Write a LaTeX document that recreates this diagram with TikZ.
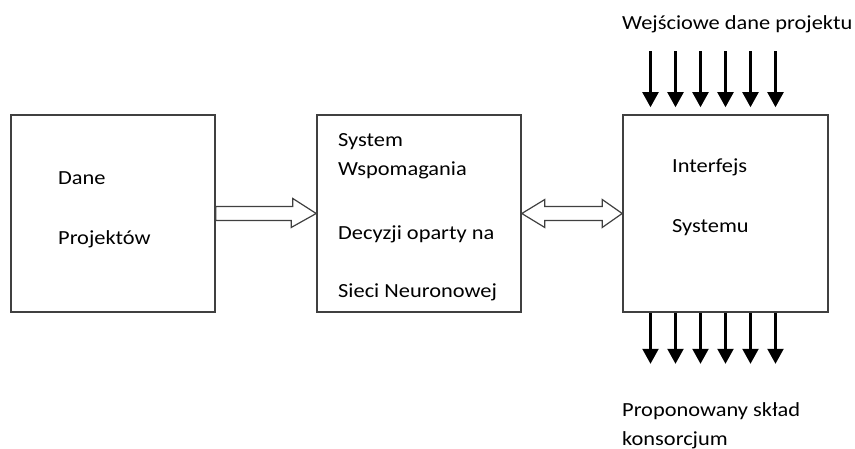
\documentclass[tikz,border=0pt]{standalone}
\usepackage{fontspec}
\setmainfont{Carlito}[FakeStretch=1.12]
\usetikzlibrary{arrows.meta,calc}
\definecolor{frame}{HTML}{404040}
\tikzset{blk/.style={draw=frame,line width=1.6pt,minimum width=204pt,minimum height=197pt,inner sep=0pt},txt/.style={anchor=base west,inner sep=0pt,font=\fontsize{20}{24}\selectfont},hollow/.style={draw=frame,line width=1.2pt,fill=white,line join=miter},flow/.style={-{Triangle[length=15pt,width=16pt]},line width=2.2pt}}

\begin{document}
\begin{tikzpicture}[x=1pt,y=-1pt]
\useasboundingbox (0,0) rectangle (855,449);
\node[blk] (dane) at (113,213.5) {};\node[blk] (dss) at (419,213.5) {};\node[blk,minimum width=205pt] (iface) at (725.5,213.5) {};
% labels in the boxes
\node[txt] (dane1) at (58,185) {Dane};\node[txt] (dane2) at (58,245) {Projektów};
\node[txt] (dss1) at (338,147) {System};\node[txt] (dss2) at (338,176) {Wspomagania};\node[txt] (dss3) at (338,240) {Decyzji oparty na};\node[txt] (dss4) at (338,298) {Sieci Neuronowej};
\node[txt] (iface1) at (672,173) {Interfejs};\node[txt] (iface2) at (672,233) {Systemu};
% block arrows
\draw[hollow] (dane.east) ++(0,-7) -- ++(77,0) -- ++(0,-8) -- (dss.west) -- ++(-25,14) -- ++(0,-7) -- ($(dane.east)+(0,7)$) -- cycle;
\draw[hollow] (dss.east) -- ++(23,-14) -- ++(0,7) -- ($(iface.west)+(-20,-7)$) -- ++(0,-7) -- (iface.west) -- ++(-20,14) -- ++(0,-7) -- ($(dss.east)+(23,7)$) -- ++(0,7) -- cycle;
% inputs and outputs
\node[txt] (wej) at (622,30) {Wejściowe dane projektu};
\foreach \dx in {-75,-50,-25,0,25,50} {\draw[flow] ($(iface.north)+(\dx,-63)$) -- ($(iface.north)+(\dx,-7)$);\draw[flow] ($(iface.south)+(\dx,0)$) -- ($(iface.south)+(\dx,51)$);}
\node[txt] (out1) at (622,416) {Proponowany skład};\node[txt] (out2) at (622,445) {konsorcjum};
\end{tikzpicture}
\end{document}
